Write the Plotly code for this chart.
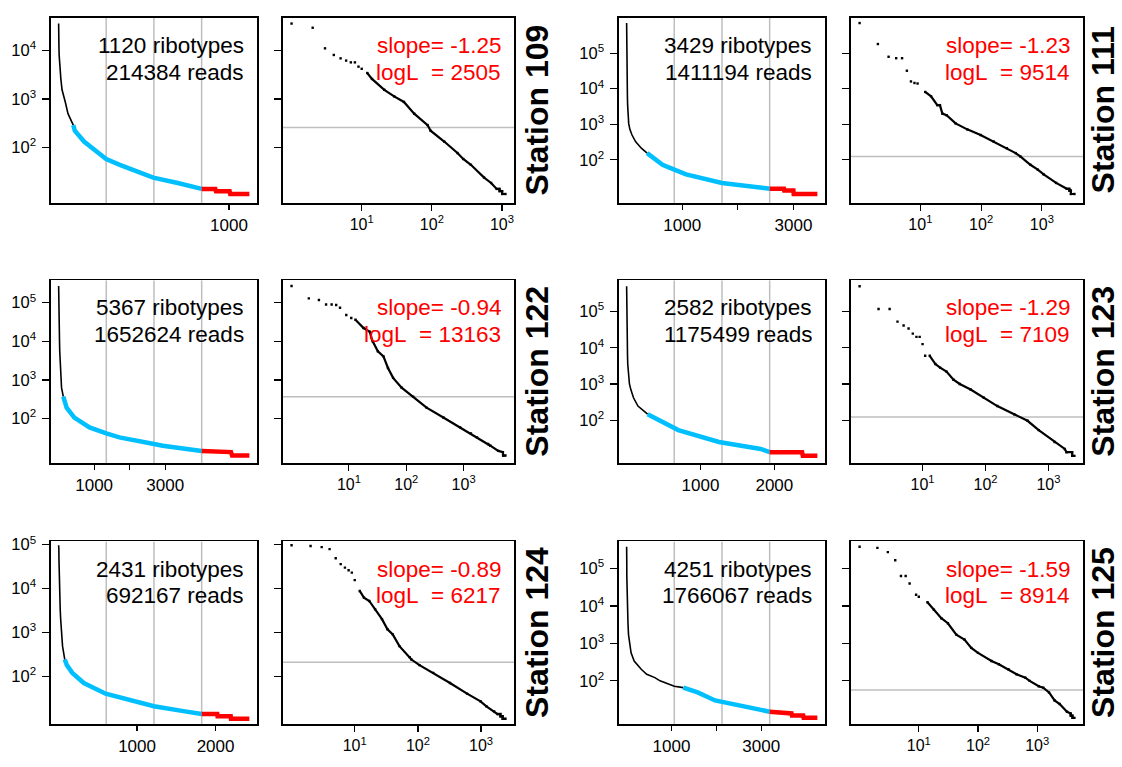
import math
import plotly.graph_objects as go

W, H = 1122, 767

# ---------------- data ----------------
stations = ["109", "111", "122", "123", "124", "125"]
ribotypes = [1120, 3429, 5367, 2582, 2431, 4251]
reads = [214384, 1411194, 1652624, 1175499, 692167, 1766067]
slopes = [-1.25, -1.23, -0.94, -1.29, -0.89, -1.59]
logL = [2505, 9514, 13163, 7109, 6217, 8914]
xmin_abund = [260, 125, 368, 123, 209, 57]      # grey horizontal line (log-log panel)
cyan_start = [87, 370, 132, 285, 79, 1264]       # rank where the blue part starts

ranks_109 = [1, 2, 3, 4, 5, 6, 7, 8, 9, 10, 12, 14, 21, 29, 40, 56, 87, 96, 150, 232, 280, 360, 556, 700, 840, 920, 924, 1004, 1008, 1120]
abund_109 = [36000, 29500, 11100, 8100, 6900, 6200, 5700, 5700, 4650, 4200, 3440, 2600, 1550, 1135, 870, 500, 290, 222, 133, 77, 58, 44, 24, 18.6, 14, 14, 12.6, 12.6, 11, 11]

ranks_111 = [1, 2, 3, 4, 5, 6, 7, 8, 9, 12, 15, 19, 21, 23, 27, 38, 59, 98, 161, 265, 370, 441, 646, 857, 1070, 1714, 2572, 2828, 2834, 2998, 3004, 3429]
abund_111 = [700000, 180000, 79000, 72000, 72000, 32000, 16000, 14500, 14000, 8100, 6100, 3450, 3450, 2000, 1800, 1060, 720, 500, 327, 213, 155, 125, 73, 53, 39, 22.5, 15.4, 15.4, 13.7, 13.7, 11, 11]

ranks_122 = [1, 2, 3, 4, 5, 6, 7, 9, 11, 13, 18, 23, 26, 32, 40, 48, 59, 83, 132, 226, 443, 870, 1342, 1710, 2684, 2930, 4025, 4850, 4880, 5367]
abund_122 = [270000, 129000, 117000, 90000, 90000, 87000, 74000, 48000, 40000, 36000, 22000, 17800, 10000, 5500, 4070, 2040, 1130, 630, 368, 191, 106, 59, 41, 32.5, 21.9, 19.8, 14.5, 13.5, 11, 11]

ranks_123 = [1, 2, 3, 4, 5, 6, 7, 8, 9, 10, 11, 13, 16, 19, 24, 31, 39, 58, 94, 154, 285, 465, 700, 1250, 1815, 1936, 2375, 2385, 2582]
abund_123 = [500000, 118000, 118000, 53000, 41500, 34000, 24600, 20000, 20000, 12600, 6000, 6000, 3560, 2830, 2200, 1310, 1000, 700, 415, 245, 146, 96, 53, 25, 16, 13, 13, 10.3, 10.3]

ranks_124 = [1, 2, 3, 4, 5, 6, 7, 8, 9, 10, 12, 14, 17, 21, 27, 33, 40, 51, 74, 79, 106, 175, 322, 600, 980, 1215, 1610, 1823, 2022, 2026, 2193, 2197, 2431]
abund_124 = [97000, 93000, 88000, 79000, 49000, 36000, 30000, 26000, 23000, 15500, 8800, 6200, 5200, 3360, 2000, 1180, 900, 485, 272, 240, 179, 119, 70, 40, 26.8, 20.6, 15.8, 13.7, 13.7, 12.2, 12.2, 10.7, 10.7]

ranks_125 = [1, 2, 3, 4, 5, 6, 7, 9, 10, 14, 18, 24, 31, 43, 59, 77, 100, 169, 225, 327, 448, 630, 745, 1063, 1264, 1585, 1970, 2400, 3188, 3675, 3685, 3935, 3945, 4251]
abund_125 = [380000, 355000, 275000, 166000, 63000, 63000, 40000, 20000, 17700, 12600, 7900, 4700, 3460, 1720, 1270, 760, 560, 338, 277, 204, 150, 122, 100, 72, 66, 49, 30, 24, 15, 13.5, 11.8, 11.8, 10.3, 10.3]

ranks = [ranks_109, ranks_111, ranks_122, ranks_123, ranks_124, ranks_125]
abunds = [abund_109, abund_111, abund_122, abund_123, abund_124, abund_125]

lin_tickvals = [[1000], [1000, 2000, 3000], [1000, 2000, 3000], [1000, 2000], [1000, 2000], [1000, 2000, 3000]]
lin_ticktext = [["1000"], ["1000", " ", "3000"], ["1000", " ", "3000"], ["1000", "2000"], ["1000", "2000"], ["1000", " ", "3000"]]
y_exponents = [[2, 3, 4], [2, 3, 4, 5], [2, 3, 4, 5], [2, 3, 4, 5], [2, 3, 4, 5], [2, 3, 4, 5]]
x_exponents = [1, 2, 3]

# ---------------- layout constants ----------------
FONT = "Arial, Liberation Sans, sans-serif"
LEFT_COLS = [(51, 257), (619, 825)]
RIGHT_COLS = [(283, 514), (851, 1083)]
ROWS = [(10, 197), (275, 460), (539, 724)]
LABEL_X = [537, 1103]
Y_RANGES = [[0.857, 4.673], [0.79, 5.99], [0.843, 5.584], [0.81, 5.87], [0.90, 5.075], [0.836, 5.725]]
GREY = "#BEBEBE"
CYAN = "#00BFFF"
RED = "#FF0000"
DENSE_FROM = 12

fig = go.Figure()
layout = {}
annotations = []


def axname(k):
    return ("x" if k == 1 else f"x{k}"), ("y" if k == 1 else f"y{k}")


def laykey(prefix, k):
    return prefix + ("" if k == 1 else str(k))


for i, st in enumerate(stations):
    row, col = divmod(i, 2)
    n = ribotypes[i]
    r = ranks[i]
    a = abunds[i]
    ka, kb = 2 * i + 1, 2 * i + 2
    xa, ya = axname(ka)
    xb, yb = axname(kb)
    yr = Y_RANGES[i]
    ylo, yhi = 10 ** yr[0], 10 ** yr[1]
    xr_lin = [1 - 0.04 * (n - 1), n + 0.04 * (n - 1)]
    L = math.log10(n)
    xr_log = [-0.04 * L, 1.04 * L]

    # quartile grid lines (left panel)
    for f in (0.25, 0.5, 0.75):
        fig.add_trace(go.Scatter(x=[f * n, f * n], y=[ylo, yhi], mode="lines",
                                 line=dict(color=GREY, width=1.5), xaxis=xa, yaxis=ya,
                                 showlegend=False, hoverinfo="skip"))
    q75 = round(0.75 * n)
    cs = cyan_start[i]
    segs = [
        ([x for x in r if x <= cs], "black", 1.6),
        ([x for x in r if cs <= x <= q75], CYAN, 4.5),
        ([x for x in r if x >= q75], RED, 4.5),
    ]
    lookup = dict(zip(r, a))
    for xs, colr, wdt in segs:
        fig.add_trace(go.Scatter(x=xs, y=[lookup[x] for x in xs], mode="lines",
                                 line=dict(color=colr, width=wdt), xaxis=xa, yaxis=ya,
                                 showlegend=False, hoverinfo="skip"))

    # right panel: grey xmin line, dense line and dots
    fig.add_trace(go.Scatter(x=[10 ** xr_log[0], 10 ** xr_log[1]], y=[xmin_abund[i]] * 2, mode="lines",
                             line=dict(color=GREY, width=1.5), xaxis=xb, yaxis=yb,
                             showlegend=False, hoverinfo="skip"))
    dense = [x for x in r if x >= DENSE_FROM]
    fig.add_trace(go.Scatter(x=dense, y=[lookup[x] for x in dense], mode="lines",
                             line=dict(color="black", width=2.2), xaxis=xb, yaxis=yb,
                             showlegend=False, hoverinfo="skip"))
    fig.add_trace(go.Scatter(x=r, y=a, mode="markers",
                             marker=dict(color="black", size=2.4, symbol="square"), xaxis=xb, yaxis=yb,
                             showlegend=False, hoverinfo="skip"))

    lx0, lx1 = LEFT_COLS[col]
    rx0, rx1 = RIGHT_COLS[col]
    ry0, ry1 = ROWS[row]
    ydom = [1 - ry1 / H, 1 - ry0 / H]
    frame = dict(showline=True, mirror=True, linecolor="black", linewidth=1.6,
                 showgrid=False, zeroline=False, ticks="outside", tickcolor="black", tickwidth=1.2)
    ytv = [10 ** e for e in y_exponents[i]]
    ytt = [f"10<sup>{e}</sup>" for e in y_exponents[i]]

    layout[laykey("xaxis", ka)] = dict(frame, domain=[lx0 / W, lx1 / W], range=xr_lin, anchor=ya,
                                       tickvals=lin_tickvals[i], ticktext=lin_ticktext[i], ticklen=5,
                                       ticklabelstandoff=1,
                                       tickfont=dict(size=17, color="black", family=FONT))
    layout[laykey("yaxis", ka)] = dict(frame, domain=ydom, type="log", range=yr, anchor=xa,
                                       tickvals=ytv, ticktext=ytt, ticklen=7, ticklabelstandoff=3,
                                       tickfont=dict(size=16.5, color="black", family=FONT))
    layout[laykey("xaxis", kb)] = dict(frame, domain=[rx0 / W, rx1 / W], type="log", range=xr_log, anchor=yb,
                                       tickvals=[10 ** e for e in x_exponents],
                                       ticktext=[f"10<sup>{e}</sup>" for e in x_exponents], ticklen=6,
                                       ticklabelstandoff=0,
                                       tickfont=dict(size=16, color="black", family=FONT))
    layout[laykey("yaxis", kb)] = dict(frame, domain=ydom, type="log", range=yr, anchor=xb,
                                       tickvals=ytv, showticklabels=False, ticklen=7)

    # text
    tsize = 22.5
    annotations.append(dict(xref="paper", yref="paper", x=(lx1 - 11) / W, y=1 - (ry0 + 28) / H,
                            xanchor="right", yanchor="middle", showarrow=False,
                            text=f"{n} ribotypes", font=dict(size=tsize, color="black", family=FONT)))
    annotations.append(dict(xref="paper", yref="paper", x=(lx1 - 11) / W, y=1 - (ry0 + 55) / H,
                            xanchor="right", yanchor="middle", showarrow=False,
                            text=f"{reads[i]} reads", font=dict(size=tsize, color="black", family=FONT)))
    annotations.append(dict(xref="paper", yref="paper", x=(rx1 - 11) / W, y=1 - (ry0 + 28) / H,
                            xanchor="right", yanchor="middle", showarrow=False,
                            text=f"slope= {slopes[i]:.2f}", font=dict(size=tsize, color=RED, family=FONT)))
    annotations.append(dict(xref="paper", yref="paper", x=(rx1 - 11) / W, y=1 - (ry0 + 55) / H,
                            xanchor="right", yanchor="middle", showarrow=False,
                            text=f"logL\u00a0\u00a0= {logL[i]}", font=dict(size=tsize, color=RED, family=FONT)))
    annotations.append(dict(xref="paper", yref="paper", x=LABEL_X[col] / W, y=1 - (ry0 + ry1) / 2 / H,
                            xanchor="center", yanchor="middle", showarrow=False, textangle=-90,
                            text=f"<b>Station {st}</b>", font=dict(size=32, color="black", family=FONT)))

fig.update_layout(**layout)
fig.update_layout(width=W, height=H, margin=dict(l=0, r=0, t=0, b=0),
                  paper_bgcolor="white", plot_bgcolor="white",
                  annotations=annotations, showlegend=False,
                  font=dict(family=FONT, color="black"))
fig.write_html("out.html", config={"displayModeBar": False, "staticPlot": True},
               post_script="document.body.style.margin='0';document.body.style.padding='0';"
                           "document.documentElement.style.overflow='hidden';")
